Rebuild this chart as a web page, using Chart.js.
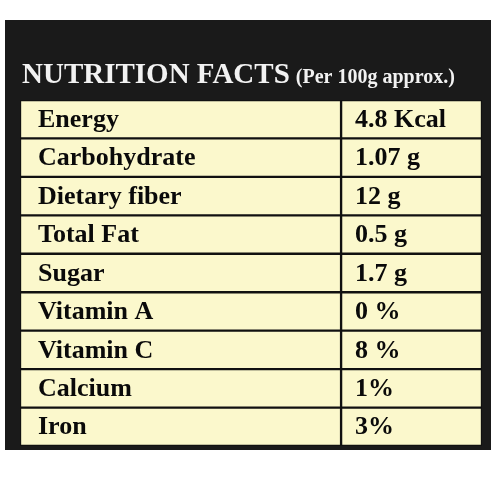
<!DOCTYPE html>
<html><head><meta charset="utf-8">
<script src="https://cdn.jsdelivr.net/npm/chart.js@4"></script>
<style>html,body{margin:0;padding:0;background:#fff}</style>
</head><body>
<canvas id="c" width="500" height="500"></canvas>
<script>
const nutrients = ["Energy","Carbohydrate","Dietary fiber","Total Fat","Sugar","Vitamin A","Vitamin C","Calcium","Iron"];
const amounts = ["4.8 Kcal","1.07 g","12 g","0.5 g","1.7 g","0 %","8 %","1%","3%"];
const title = "NUTRITION FACTS";
const subtitle = "(Per 100g approx.)";
const nameCol = nutrients.map(() => 0.695);
const valueCol = nutrients.map(() => 0.305);

const tablePlugin = {
  id: 'table',
  beforeDraw(chart) {
    const ctx = chart.ctx;
    ctx.save();
    ctx.fillStyle = '#fff'; ctx.fillRect(0,0,500,500);
    ctx.fillStyle = '#1a1a1a'; ctx.fillRect(5,20,486,430);
    ctx.fillStyle = '#f2f2f2';
    ctx.font = 'bold 29px "Liberation Serif"';
    ctx.textBaseline = 'alphabetic';
    ctx.fillText(title, 22, 83);
    const w = ctx.measureText(title).width;
    ctx.font = 'bold 20px "Liberation Serif"';
    ctx.fillText(subtitle, 22 + w + 6, 83);
    ctx.restore();
  },
  afterDatasetsDraw(chart) {
    const ctx = chart.ctx, y = chart.scales.y, x = chart.scales.x;
    ctx.save();
    ctx.fillStyle = '#0a0a0a';
    ctx.font = 'bold 26px "Liberation Serif"';
    ctx.textBaseline = 'middle';
    nutrients.forEach((n, i) => {
      const py = y.getPixelForValue(i) + 1;
      ctx.fillText(n, x.getPixelForValue(0) + 18, py);
      ctx.fillText(amounts[i], x.getPixelForValue(nameCol[i]) + 14, py);
    });
    ctx.restore();
  }
};

new Chart(document.getElementById('c'), {
  type: 'bar',
  data: {
    labels: nutrients,
    datasets: [
      {data: nameCol, backgroundColor: '#fbf8cc', borderColor: '#111', borderWidth: 1.5, borderSkipped: false, barPercentage: 1, categoryPercentage: 1},
      {data: valueCol, backgroundColor: '#fbf8cc', borderColor: '#111', borderWidth: 1.5, borderSkipped: false, barPercentage: 1, categoryPercentage: 1}
    ]
  },
  options: {
    indexAxis: 'y', responsive: false, animation: false,
    layout: {padding: {left: 20, right: 18, top: 100, bottom: 54}},
    plugins: {legend: {display: false}, tooltip: {enabled: false}},
    scales: {
      x: {stacked: true, min: 0, max: 1, display: false},
      y: {stacked: true, display: false}
    }
  },
  plugins: [tablePlugin]
});
</script>
</body></html>
